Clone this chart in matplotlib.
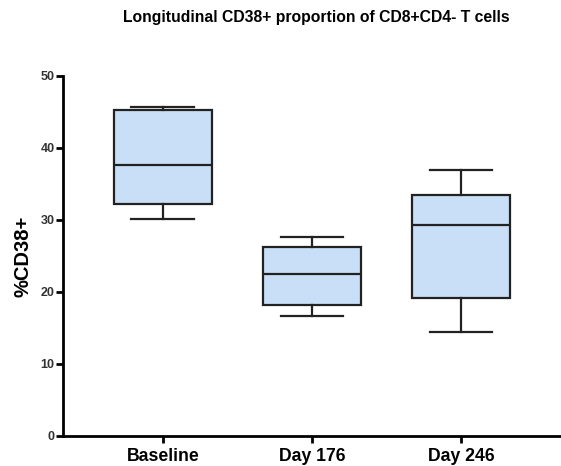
import matplotlib
matplotlib.use("Agg")
import matplotlib.pyplot as plt

groups = ["Baseline", "Day 176", "Day 246"]
mins = [30.1, 16.7, 14.5]
q1s = [32.2, 18.2, 19.2]
medians = [37.6, 22.5, 29.3]
q3s = [45.3, 26.2, 33.4]
maxs = [45.7, 27.6, 36.9]

plt.rcParams['font.family'] = ['Liberation Sans', 'DejaVu Sans']

stats = []
for g, lo, a, m, b, hi in zip(groups, mins, q1s, medians, q3s, maxs):
    stats.append({"label": g, "whislo": lo, "q1": a, "med": m, "q3": b, "whishi": hi})

fig = plt.figure(figsize=(5.61, 4.66), dpi=100)
ax = fig.add_axes([0.112, 0.0644, 0.888, 0.7726])

lw = 1.6
ax.bxp(stats, positions=range(len(groups)), widths=0.66, patch_artist=True,
       showfliers=False,
       boxprops=dict(facecolor="#c9dff7", edgecolor="#222222", linewidth=lw),
       medianprops=dict(color="#222222", linewidth=lw),
       whiskerprops=dict(color="#222222", linewidth=lw),
       capprops=dict(color="#222222", linewidth=lw),
       capwidths=0.42)

ax.set_xlim(-0.67, 2.67)
ax.set_ylim(0, 50)
ax.set_yticks([0, 10, 20, 30, 40, 50])
ax.spines['top'].set_visible(False)
ax.spines['right'].set_visible(False)
ax.spines['left'].set_linewidth(2)
ax.spines['bottom'].set_linewidth(2)
ax.tick_params(axis='both', width=2, length=5, color="black")
ax.set_xticks(range(len(groups)))
ax.set_xticklabels(groups, fontsize=12.7, fontweight='bold')
for t in ax.get_yticklabels():
    t.set_fontsize(9)
    t.set_fontweight('bold')
    t.set_color('#333333')
ax.tick_params(axis='y', pad=1)
ax.tick_params(axis='x', pad=4)

ax.set_ylabel("%CD38+", fontsize=14.5, fontweight='bold', labelpad=6)
fig.text(0.563, 0.962, "Longitudinal CD38+ proportion of CD8+CD4- T cells",
         ha='center', va='center', fontsize=11.3, fontweight='bold')

fig.savefig("out.png", dpi=100)
